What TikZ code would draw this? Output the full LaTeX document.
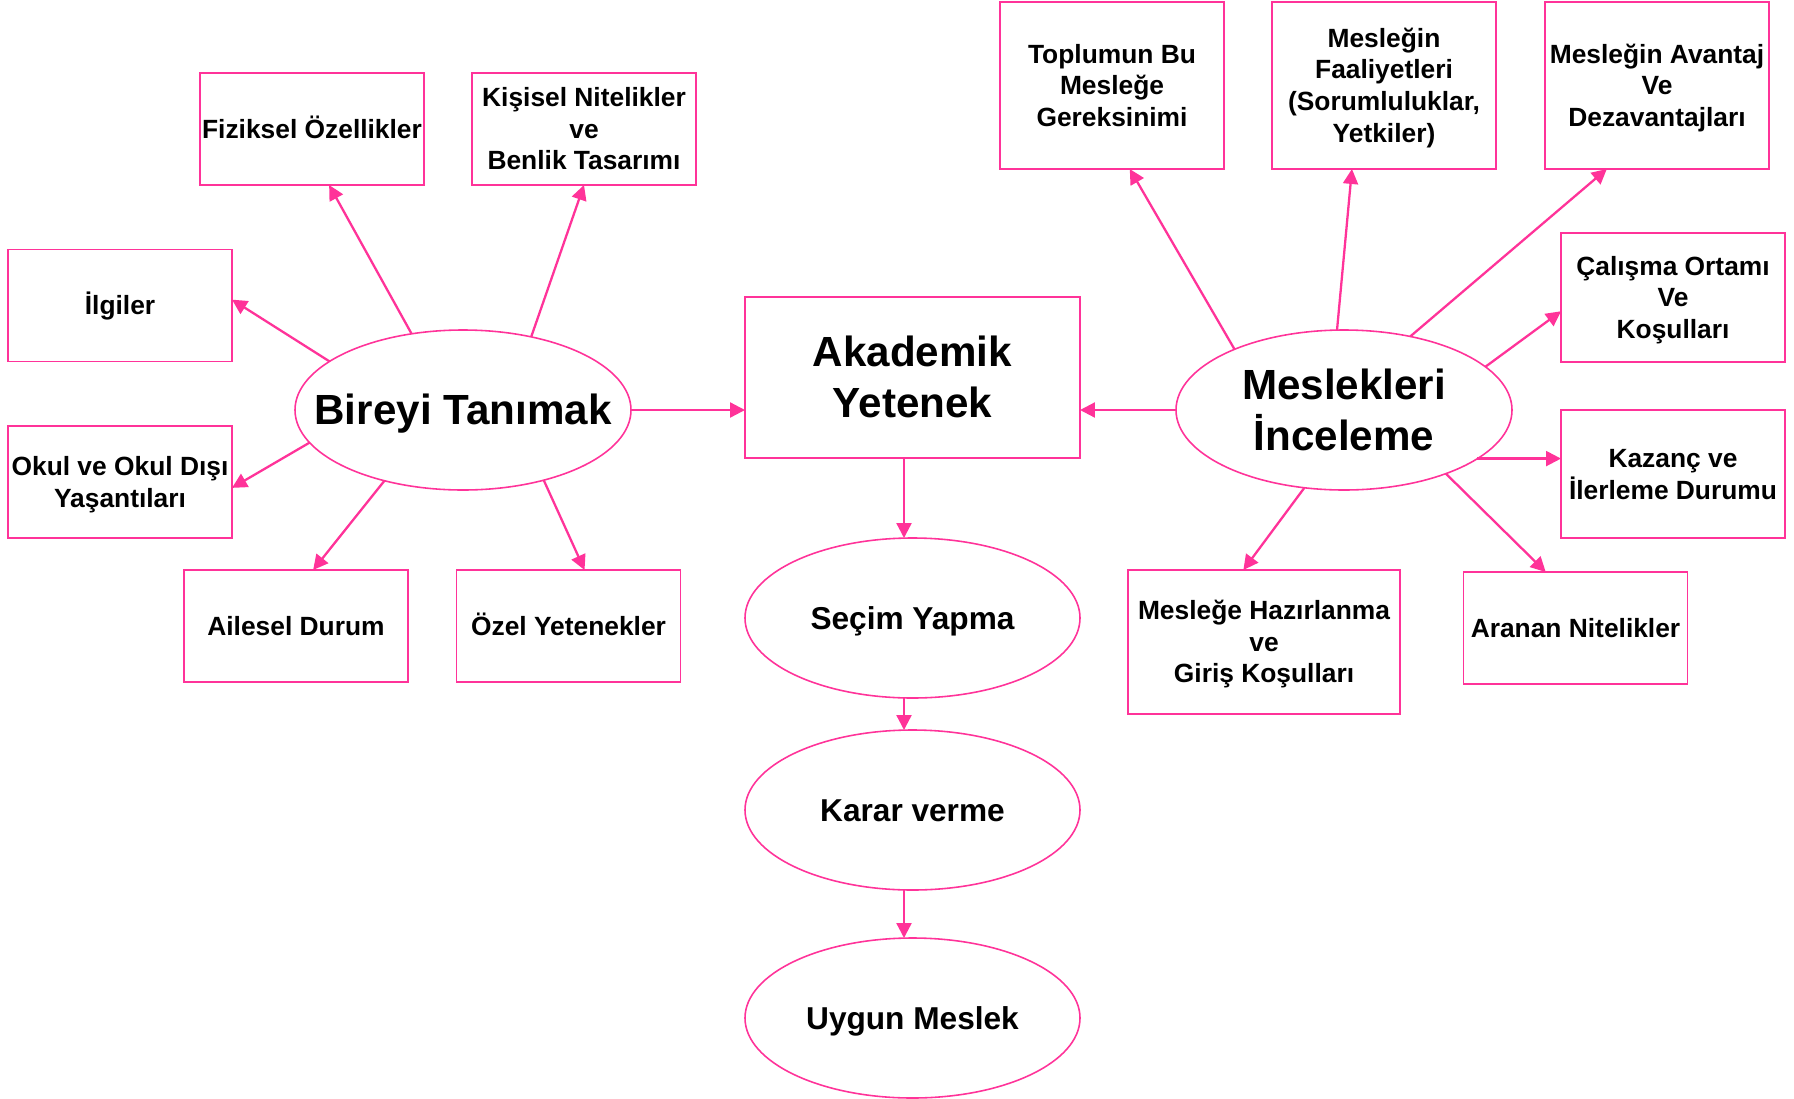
\documentclass[tikz,border=0pt]{standalone}
\usepackage{fontspec}
\setmainfont{Liberation Sans}
\usepackage{array}
\usepackage{tikz}
\usetikzlibrary{shapes.geometric, arrows.meta, positioning, calc}
\definecolor{pinkline}{RGB}{255, 51, 153}
\newcommand{\ppstrut}{\rule[-0.25em]{0pt}{1.2em}}
\newcommand{\celltext}[1]{{\renewcommand{\arraystretch}{0}\begin{tabular}{@{}>{\ppstrut}c@{}}#1\end{tabular}}}
\newcommand{\ovaltext}[1]{\makebox[0pt]{\celltext{#1}}}

\begin{document}
\begin{tikzpicture}[
    node distance=1.6cm,
    block_small/.style={
      rectangle,
      draw=pinkline,
      line width=1.1pt,
      font=\fontsize{15}{18}\selectfont\bfseries,
      minimum width=4.48cm,
      minimum height=2.24cm,
      inner sep=0pt,
      outer sep=0pt
    },
    block_big/.style={
      rectangle,
      draw=pinkline,
      line width=1.1pt,
      font=\fontsize{24}{28.8}\selectfont\bfseries,
      minimum width=6.70cm,
      minimum height=3.22cm,
      inner sep=0pt,
      outer sep=0pt
    },
    ell_main/.style={
      ellipse,
      draw=pinkline,
      line width=0.9pt,
      font=\fontsize{24}{28.8}\selectfont\bfseries,
      minimum width=6.72cm,
      minimum height=3.2cm,
      inner sep=0pt,
      outer sep=0pt
    },
    ell_step/.style={
      ellipse,
      draw=pinkline,
      line width=0.9pt,
      font=\fontsize{18}{21.6}\selectfont\bfseries,
      minimum width=6.70cm,
      minimum height=3.2cm,
      inner sep=0pt,
      outer sep=0pt
    },
    line/.style={draw=pinkline, line width=1.3pt, -{Triangle[length=8.5pt,width=8.5pt]}}
  ]
  \useasboundingbox (0,0) rectangle (35.88,-21.96);

  % Nodes
  \node [ell_main] (bireyi) at (9.26,-8.20) {\ovaltext{Bireyi Tanımak}};
  \node [block_big] (akademik) at (18.25,-7.55) {\celltext{Akademik\\Yetenek}};
  \node [ell_main] (meslek) at (26.88,-8.20) {\ovaltext{Meslekleri\\İnceleme}};

  \node [ell_step, below=of akademik] (secim) {\ovaltext{Seçim Yapma}};
  \node [ell_step, below=0.64cm of secim] (karar) {\ovaltext{Karar verme}};
  \node [ell_step, below=0.96cm of karar] (uygun) {\ovaltext{Uygun Meslek}};

  \node [block_small] (fiziksel) at (6.24,-2.58) {\celltext{Fiziksel Özellikler}};
  \node [block_small] (kisisel) at (11.68,-2.58) {\celltext{Kişisel Nitelikler\\ve\\Benlik Tasarımı}};
  \node [block_small] (ilgiler) at (2.40,-6.11) {\celltext{İlgiler}};
  \node [block_small] (okul) at (2.40,-9.64) {\celltext{Okul ve Okul Dışı\\Yaşantıları}};
  \node [block_small] (ailesel) at (5.92,-12.52) {\celltext{Ailesel Durum}};
  \node [block_small] (ozel) at (11.37,-12.52) {\celltext{Özel Yetenekler}};

  \node [block_small, minimum height=3.34cm] (toplum) at (22.24,-1.71) {\celltext{Toplumun Bu\\Mesleğe\\Gereksinimi}};
  \node [block_small, minimum height=3.34cm] (faaliyet) at (27.68,-1.71) {\celltext{Mesleğin\\Faaliyetleri\\(Sorumluluklar,\\Yetkiler)}};
  \node [block_small, minimum height=3.34cm] (avantaj) at (33.14,-1.71) {\celltext{Mesleğin Avantaj\\Ve\\Dezavantajları}};
  \node [block_small, minimum height=2.58cm] (calisma) at (33.46,-5.95) {\celltext{Çalışma Ortamı\\Ve\\Koşulları}};
  \node [block_small, minimum height=2.56cm] (kazanc) at (33.46,-9.48) {\celltext{Kazanç ve\\İlerleme Durumu}};
  \node [block_small, minimum width=5.44cm, minimum height=2.88cm] (hazirlik) at (25.28,-12.84) {\celltext{Mesleğe Hazırlanma\\ve\\Giriş Koşulları}};
  \node [block_small] (aranan) at (31.51,-12.56) {\celltext{Aranan Nitelikler}};

  % Arrows
  \draw[line] (bireyi.124) -- (fiziksel.287.6);
  \draw[line] (bireyi.47.6) -- (kisisel.south);
  \draw[line] (bireyi.160.2) -- (ilgiler.3);
  \draw[line] (bireyi.192.6) -- (okul.357);
  \draw[line] (bireyi.222) -- (ailesel.73.3);
  \draw[line] (bireyi.319.5) -- (ozel.74.6);
  \draw[line] (bireyi.east) -- (bireyi.east -| akademik.west);

  \draw[line] (meslek.west) -- (meslek.west -| akademik.east);
  \draw[line] (meslek.151.7) -- (toplum.282.1);
  \draw[line] (meslek.95.5) -- (faaliyet.249.8);
  \draw[line] (meslek.48) -- (avantaj.239.5);
  \draw[line] (meslek.17.6) -- (calisma.187.9);
  \draw[line] (meslek.340.9) -- (meslek.340.9 -| kazanc.west);
  \draw[line] (meslek.243.5) -- (hazirlik.106.1);
  \draw[line] (meslek.328.9) -- (aranan.118.8);

  \draw[line] ([xshift=-0.17cm]akademik.south) -- ([xshift=-0.17cm]secim.north);
  \draw[line] ([xshift=-0.17cm]secim.south) -- ([xshift=-0.17cm]karar.north);
  \draw[line] ([xshift=-0.17cm]karar.south) -- ([xshift=-0.17cm]uygun.north);

\end{tikzpicture}
\end{document}
